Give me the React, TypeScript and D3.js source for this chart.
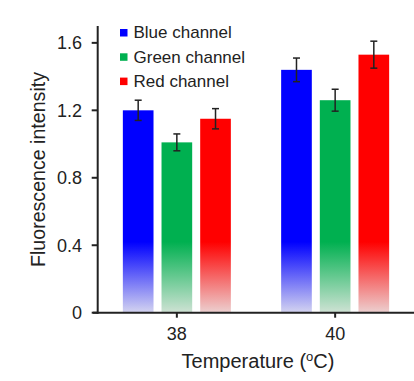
import React from "react";
import * as d3 from "d3";

const categories = ["38", "40"];
const seriesNames = ["Blue channel", "Green channel", "Red channel"];
const seriesColors = ["#0000ff", "#00b050", "#ff0000"];
const paleColors = ["#d4d4f0", "#cfe2d4", "#ecd0d0"];
const blueValues = [1.2, 1.44];
const greenValues = [1.01, 1.26];
const redValues = [1.15, 1.53];
const blueErrors = [0.06, 0.07];
const greenErrors = [0.05, 0.065];
const redErrors = [0.06, 0.08];
const yTicks = [0, 0.4, 0.8, 1.2, 1.6];

const W = 414;
const H = 381;
const FONT = "'Liberation Sans', Arial, sans-serif";
const TXT = "#222";

export default function App() {
  const values = [blueValues, greenValues, redValues];
  const errors = [blueErrors, greenErrors, redErrors];
  const x0 = d3.scaleBand<string>().domain(categories).range([97.7, 414.3]).padding(0);
  const x1 = d3
    .scaleBand<string>()
    .domain(seriesNames)
    .range([-54, 54])
    .paddingInner(0.207)
    .paddingOuter(0);
  const y = d3.scaleLinear().domain([0, 1.7]).range([312.7, 26]);
  const axisX = 97.7;
  const baseY = y(0);

  return (
    <svg
      width={W}
      height={H}
      style={{ position: "absolute", left: 0, top: 0, background: "#fff" }}
      fontFamily={FONT}
    >
      <defs>
        {seriesNames.map((s, i) => (
          <linearGradient
            key={s}
            id={`g${i}`}
            gradientUnits="userSpaceOnUse"
            x1={0}
            x2={0}
            y1={y(0.42)}
            y2={baseY}
          >
            <stop offset="0" stopColor={seriesColors[i]} />
            <stop offset="0.45" stopColor={d3.interpolateRgb(seriesColors[i], paleColors[i])(0.45)} />
            <stop offset="1" stopColor={paleColors[i]} />
          </linearGradient>
        ))}
      </defs>
      <rect x={0} y={0} width={W} height={H} fill="#fff" />

      {categories.map((c, ci) => {
        const cx = (x0(c) as number) + x0.bandwidth() / 2;
        return seriesNames.map((s, si) => {
          const bx = cx + (x1(s) as number);
          const v = values[si][ci];
          const e = errors[si][ci];
          const mid = bx + x1.bandwidth() / 2;
          return (
            <g key={c + s}>
              <rect
                x={bx}
                y={y(v)}
                width={x1.bandwidth()}
                height={baseY - y(v)}
                fill={`url(#g${si})`}
              />
              <line x1={mid} x2={mid} y1={y(v + e)} y2={y(v - e)} stroke={TXT} strokeWidth={1.5} />
              <line x1={mid - 3.5} x2={mid + 3.5} y1={y(v + e)} y2={y(v + e)} stroke={TXT} strokeWidth={1.5} />
              <line x1={mid - 3.5} x2={mid + 3.5} y1={y(v - e)} y2={y(v - e)} stroke={TXT} strokeWidth={1.5} />
            </g>
          );
        });
      })}

      {/* axes */}
      <line x1={axisX} x2={axisX} y1={y(1.7)} y2={baseY + 1} stroke={TXT} strokeWidth={2} />
      <line x1={93} x2={414} y1={baseY} y2={baseY} stroke={TXT} strokeWidth={2} />
      {yTicks.map((t) => (
        <g key={t}>
          <line x1={axisX - 6} x2={axisX} y1={y(t)} y2={y(t)} stroke={TXT} strokeWidth={2} />
          <text
            x={82}
            y={y(t)}
            dy="0.36em"
            textAnchor="end"
            fontSize={18}
            fill={TXT}
          >
            {t === 0 ? "0" : t.toFixed(1)}
          </text>
        </g>
      ))}
      {categories.map((c) => {
        const cx = (x0(c) as number) + x0.bandwidth() / 2;
        return (
          <g key={c}>
            <line x1={cx} x2={cx} y1={baseY} y2={baseY + 5} stroke={TXT} strokeWidth={2} />
            <text x={cx} y={340} textAnchor="middle" fontSize={18} fill={TXT}>
              {c}
            </text>
          </g>
        );
      })}

      <text x={258} y={368} textAnchor="middle" fontSize={20} fill={TXT}>
        Temperature (<tspan fontSize={13} dy={-7}>o</tspan>
        <tspan dy={7}>C)</tspan>
      </text>
      <text
        transform={`translate(45,169.5) rotate(-90)`}
        textAnchor="middle"
        fontSize={19.6}
        fill={TXT}
      >
        Fluorescence intensity
      </text>

      {/* legend */}
      {seriesNames.map((s, i) => (
        <g key={s} transform={`translate(120,${29 + i * 24.3})`}>
          <rect x={0} y={0} width={7.5} height={7.5} fill={seriesColors[i]} />
          <text x={13.5} y={9.3} fontSize={17} fill={TXT}>
            {s}
          </text>
        </g>
      ))}
    </svg>
  );
}
